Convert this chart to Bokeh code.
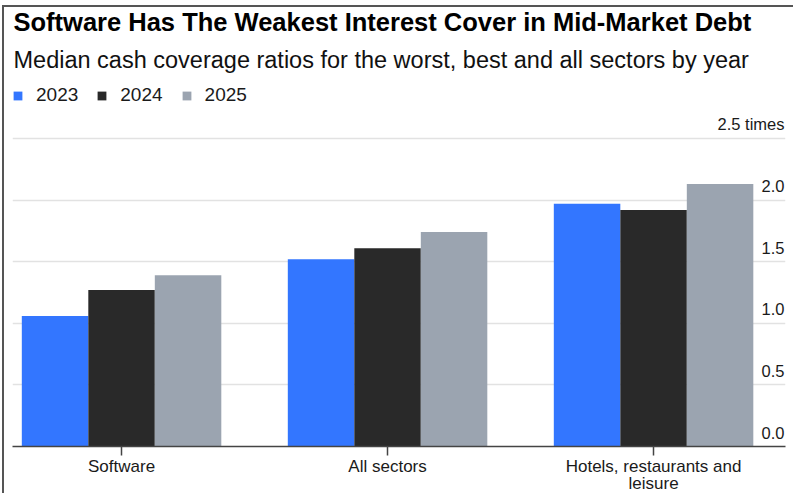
from bokeh.plotting import figure
from bokeh.models import (Range1d, FixedTicker, Title, Legend, LegendItem,
                          ColumnDataSource, LabelSet)
from bokeh.core.properties import value
from bokeh.transform import dodge
from bokeh.embed import file_html
from bokeh.resources import INLINE

# ---- data ----
categories = ["Software", "All sectors", "Hotels, restaurants and\nleisure"]
years = ["2023", "2024", "2025"]
v2023 = [1.06, 1.52, 1.97]
v2024 = [1.27, 1.61, 1.92]
v2025 = [1.39, 1.74, 2.13]
ytick_values = [0.0, 0.5, 1.0, 1.5, 2.0, 2.5]
ytick_labels = ["0.0", "0.5", "1.0", "1.5", "2.0", "2.5 times"]

colors = ["#3376ff", "#292929", "#9ba4b0"]
FONT = "Liberation Sans"

xpos = list(range(len(categories)))
src = ColumnDataSource(dict(x=xpos, v2023=v2023, v2024=v2024, v2025=v2025))

x_range = Range1d(-0.41, 2.496)
y_range = Range1d(0, 2.938)

p = figure(width=791, height=488, x_range=x_range, y_range=y_range,
           output_backend="svg", toolbar_location=None, y_axis_location=None,
           min_border_left=8, min_border_right=10, min_border_top=0,
           min_border_bottom=0)
# thin frame on the top and left of the graphic (as in the source image)
p.styles = {"margin-left": "4px", "margin-top": "7px",
            "box-shadow": "-2px -2px 0px 0px #555555"}
p.outline_line_color = None
p.background_fill_color = "white"
p.border_fill_color = "white"

bw = 0.25
renderers = []
for i, (yr, col) in enumerate(zip(years, colors)):
    r = p.vbar(x=dodge("x", (i - 1) * bw, range=x_range), top="v" + yr, width=bw,
               source=src, fill_color=col, line_color=None)
    renderers.append(r)

# grid
p.xgrid.visible = False
p.ygrid.ticker = FixedTicker(ticks=ytick_values)
p.ygrid.grid_line_color = "#e2e2e2"
p.ygrid.grid_line_width = 1.5

# x axis
xa = p.xaxis[0]
xa.ticker = FixedTicker(ticks=xpos)
xa.major_label_overrides = {i: c for i, c in zip(xpos, categories)}
xa.minor_tick_line_color = None
xa.major_tick_in = 0
xa.major_tick_out = 9
xa.major_tick_line_color = "#444444"
xa.major_tick_line_width = 1.5
xa.axis_line_color = "#444444"
xa.axis_line_width = 1.5
xa.major_label_text_font = FONT
xa.major_label_text_font_size = "17px"
xa.major_label_text_color = "#1a1a1a"
xa.major_label_text_line_height = 0.9
xa.major_label_standoff = 1

# y tick labels drawn inside the plot, right aligned above gridlines
ysrc = ColumnDataSource(dict(x=[x_range.end] * len(ytick_values), y=ytick_values,
                             t=ytick_labels))
p.add_layout(LabelSet(x="x", y="y", text="t", source=ysrc, text_align="right",
                      text_baseline="alphabetic", x_offset=-1, y_offset=8,
                      text_font=value(FONT), text_font_size=value("16.5px"),
                      text_color="#1a1a1a"))

# legend at the (empty) top of the plotting area
legend = Legend(items=[LegendItem(label=yr, renderers=[r]) for yr, r in zip(years, renderers)],
                orientation="horizontal", location="top_left",
                glyph_width=11, glyph_height=11, label_standoff=13, spacing=18,
                padding=0, margin=0, border_line_color=None, background_fill_alpha=0,
                label_text_font=FONT, label_text_font_size="19px",
                label_text_color="#1a1a1a", label_height=19)
p.add_layout(legend, "center")

p.add_layout(Title(text="Median cash coverage ratios for the worst, best and all sectors by year",
                   text_font=FONT, text_font_size="23.5px", text_font_style="normal",
                   text_color="#111111", align="left", offset=1, standoff=23), "above")
p.add_layout(Title(text="Software Has The Weakest Interest Cover in Mid-Market Debt",
                   text_font=FONT, text_font_size="25.5px", text_font_style="bold",
                   text_color="#000000", align="left", offset=1, standoff=-4), "above")

open("out.html", "w").write(file_html(p, INLINE))
